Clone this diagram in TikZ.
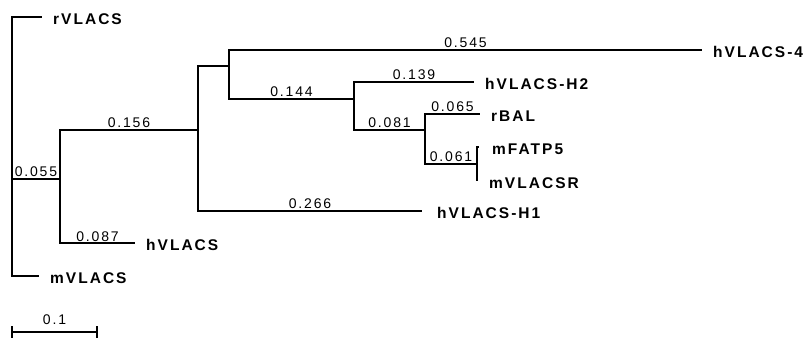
\documentclass[tikz,border=0pt]{standalone}
\usepackage{fontspec}
\setmainfont[LetterSpace=13]{Liberation Sans}
\usetikzlibrary{positioning}

\begin{document}
\begin{tikzpicture}[x=1pt,y=-1pt]
  \tikzset{branch/.style={line width=1.5pt},
    len/.style={font=\fontsize{14}{14}\selectfont,inner sep=0pt,anchor=base,yshift=2pt},
    leaf/.style={font=\fontsize{15.5}{15.5}\selectfont\bfseries,inner sep=0pt,anchor=base west,xshift=11pt,yshift=-7.5pt}}
  \useasboundingbox (0,0) rectangle (806,339);

  % internal nodes
  \coordinate (root) at (12,179);
  \coordinate (n1) at (60,179);
  \coordinate (n2) at (198,130);
  \coordinate (n3) at (229,66);
  \coordinate (n4) at (354,99);
  \coordinate (n5) at (425,130);
  \coordinate (n6) at (477,164);
  % leaf tips
  \coordinate (t-rVLACS) at (42,17);
  \coordinate (t-mVLACS) at (39,276);
  \coordinate (t-hVLACS) at (135,243);
  \coordinate (t-H1) at (422,211);
  \coordinate (t-H4) at (702,50);
  \coordinate (t-H2) at (474,82);
  \coordinate (t-rBAL) at (480,114);
  \coordinate (t-mFATP5) at (479,147);
  \coordinate (t-mVLACSR) at (477,181);

  \node[leaf] (rVLACS) at (t-rVLACS) {rVLACS};
  \node[leaf] (mVLACS) at (t-mVLACS) {mVLACS};
  \node[leaf] (hVLACS) at (t-hVLACS) {hVLACS};
  \node[leaf,xshift=4pt] (hVLACS-H1) at (t-H1) {hVLACS-H1};
  \node[leaf] (hVLACS-4) at (t-H4) {hVLACS-4};
  \node[leaf] (hVLACS-H2) at (t-H2) {hVLACS-H2};
  \node[leaf] (rBAL) at (t-rBAL) {rBAL};
  \node[leaf,xshift=2pt] (mFATP5) at (t-mFATP5) {mFATP5};
  \node[leaf,xshift=1pt] (mVLACSR) at (t-mVLACSR) {mVLACSR};

  \draw[branch] (root) |- (t-rVLACS);
  \draw[branch] (root) |- (t-mVLACS);
  \draw[branch] (root) -- node[len] {0.055} (n1);
  \draw[branch] (n1) |- node[len,pos=0.75] {0.156} (n2);
  \draw[branch] (n1) |- node[len,pos=0.75] {0.087} (t-hVLACS);
  \draw[branch] (n2) |- (n3);
  \draw[branch] (n2) |- node[len,pos=0.75] {0.266} (t-H1);
  \draw[branch] (n3) |- node[len,pos=0.75] {0.545} (t-H4);
  \draw[branch] (n3) |- node[len,pos=0.75] {0.144} (n4);
  \draw[branch] (n4) |- node[len,pos=0.75] {0.139} (t-H2);
  \draw[branch] (n4) |- node[len,pos=0.75] {0.081} (n5);
  \draw[branch] (n5) |- node[len,pos=0.75] {0.065} (t-rBAL);
  \draw[branch] (n5) |- node[len,pos=0.75] {0.061} (n6);
  \draw[branch] (n6) |- (t-mFATP5);
  \draw[branch] (n6) |- (t-mVLACSR);

  % scale bar
  \coordinate (s0) at (12,332);
  \coordinate (s1) at (97,332);
  \draw[branch] (s0) -- node[len,yshift=6pt] {0.1} (s1);
  \draw[branch] ([yshift=6pt]s0) -- ([yshift=-6pt]s0);
  \draw[branch] ([yshift=6pt]s1) -- ([yshift=-6pt]s1);
\end{tikzpicture}
\end{document}
